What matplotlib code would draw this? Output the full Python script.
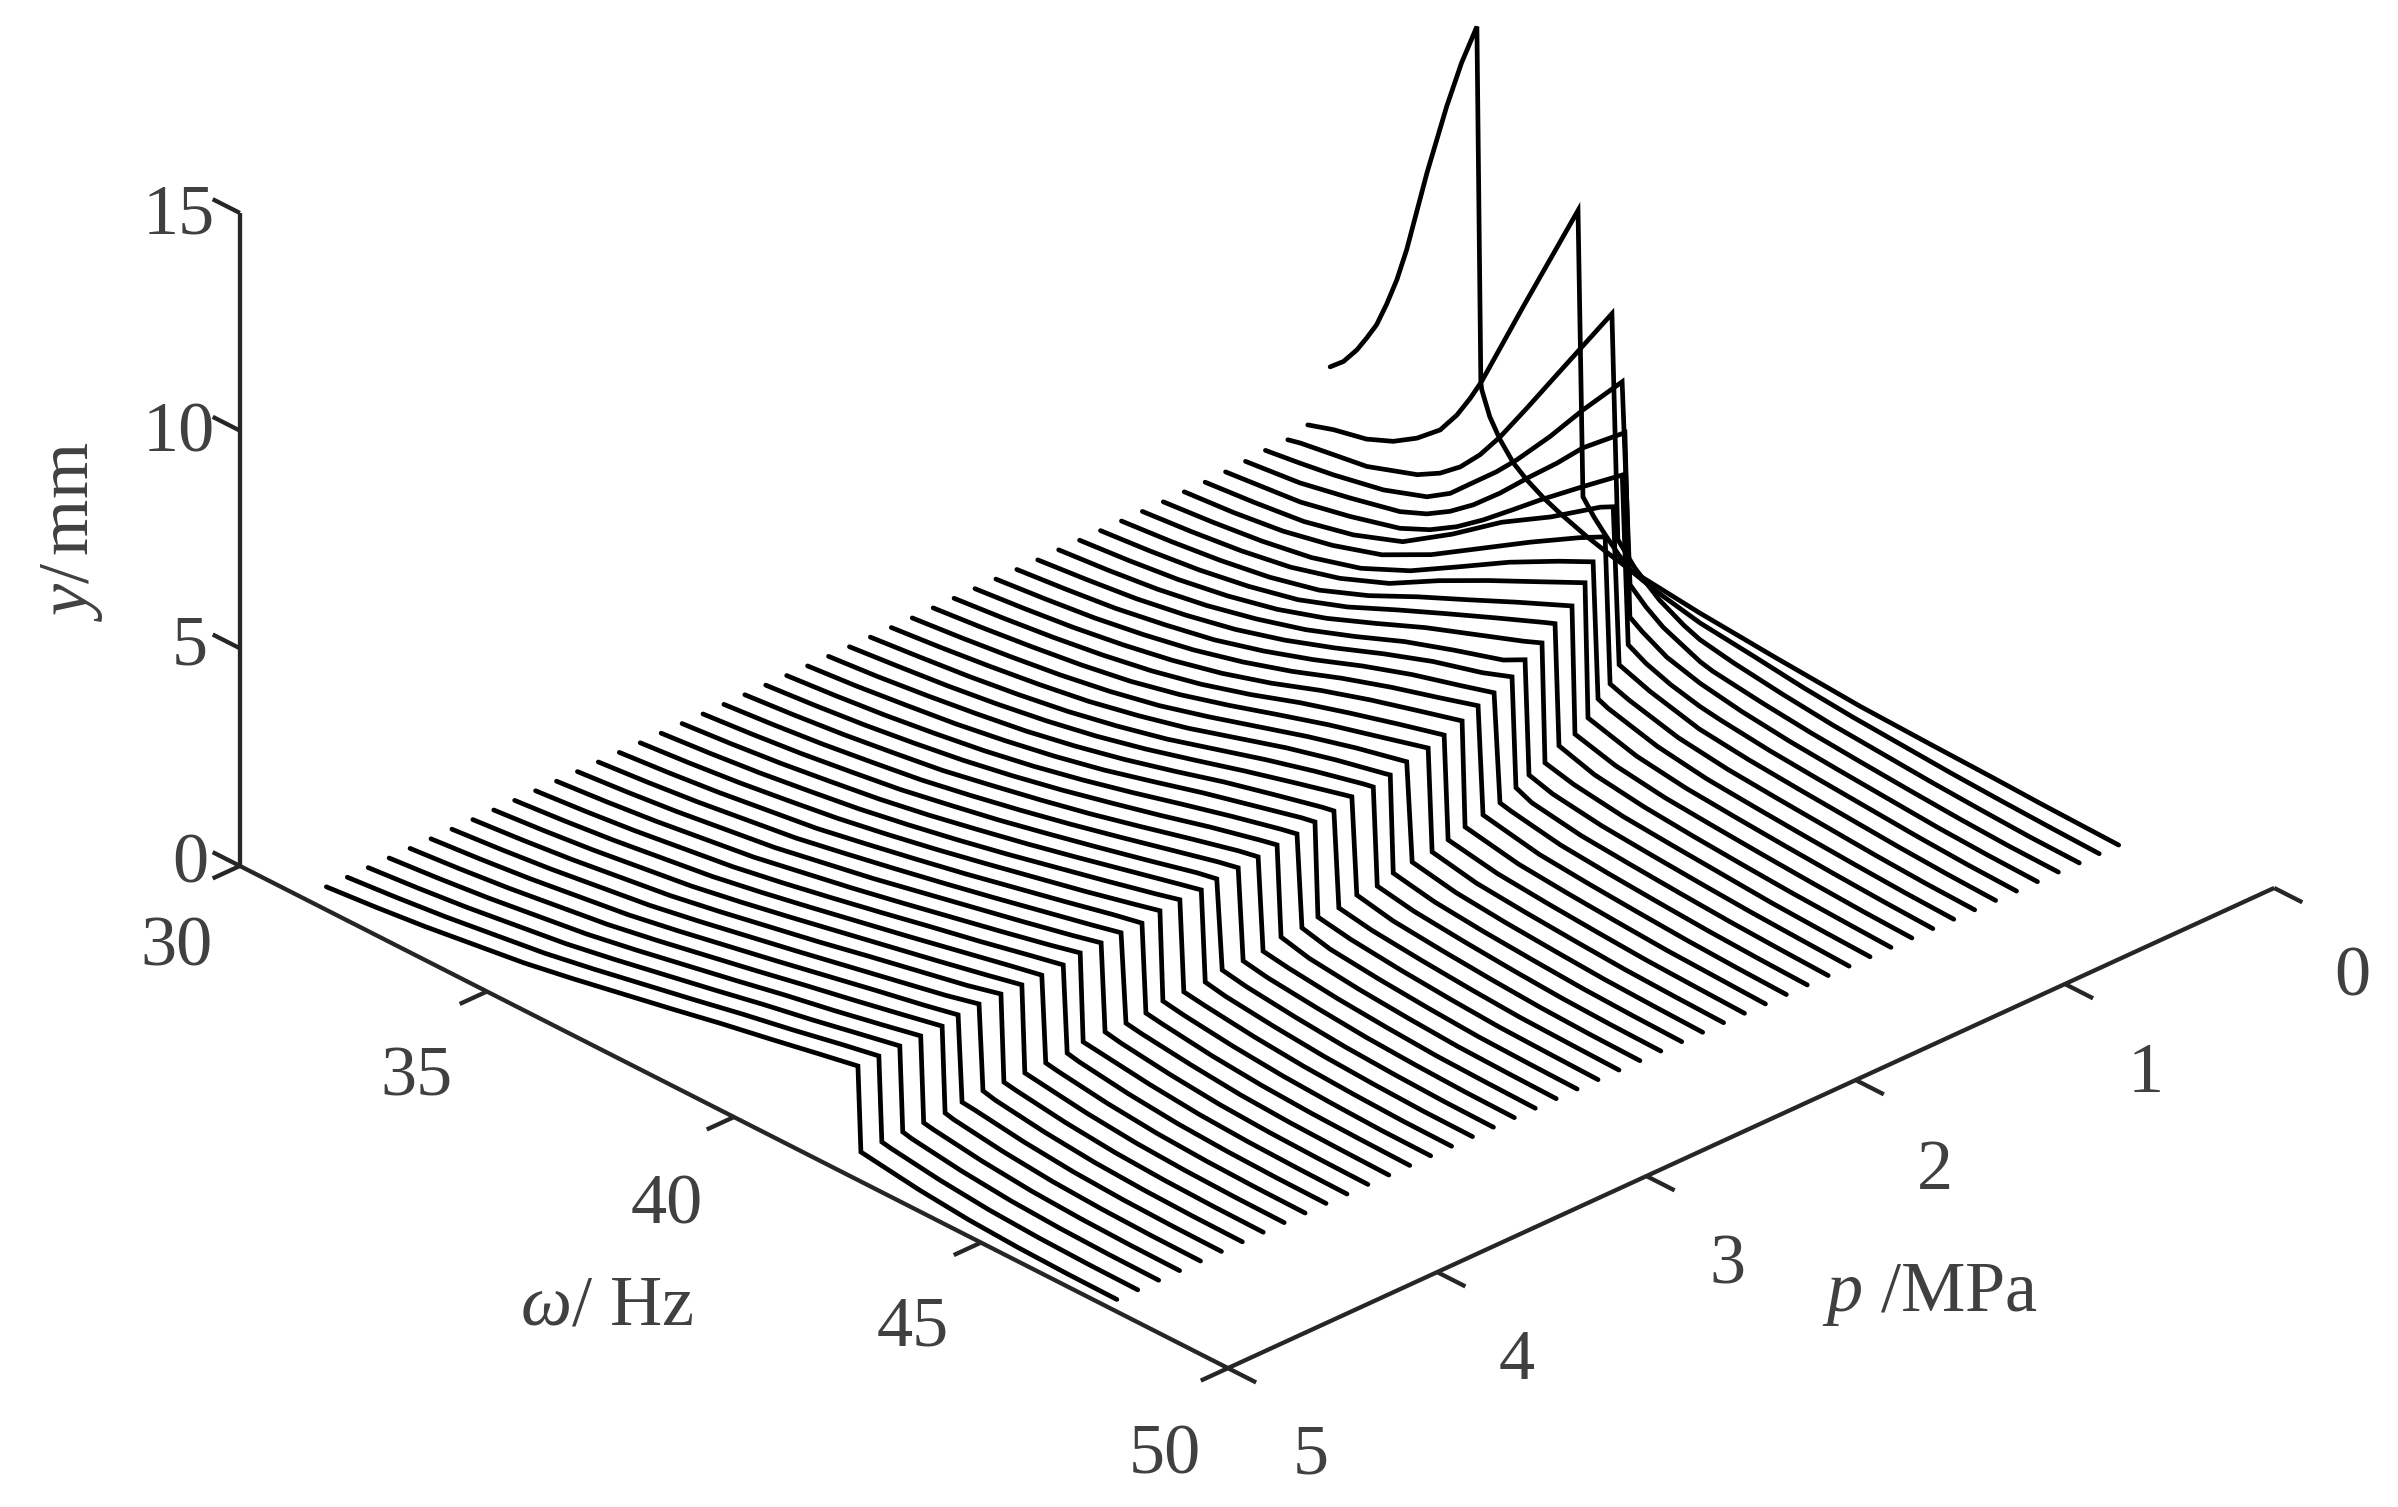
from matplotlib import pyplot as plt

plt.rcParams['font.family'] = ['Liberation Serif', 'DejaVu Serif']
plt.rcParams['mathtext.fontset'] = 'custom'
plt.rcParams['mathtext.rm'] = 'Liberation Serif'
plt.rcParams['mathtext.it'] = 'Liberation Serif:italic'

pressure = [0.2, 0.3, 0.4, 0.5, 0.6, 0.7, 0.8, 0.9, 1.0, 1.1, 1.2, 1.3, 1.4, 1.5, 1.6, 1.7, 1.8,
            1.9, 2.0, 2.1, 2.2, 2.3, 2.4, 2.5, 2.6, 2.7, 2.8, 2.9, 3.0, 3.1, 3.2, 3.3, 3.4, 3.5,
            3.6, 3.7, 3.8, 3.9, 4.0, 4.1, 4.2, 4.3, 4.4, 4.5, 4.6, 4.7, 4.8, 4.9, 5.0]

# the six tallest curves are read point by point
first_omega = [
    [31.74, 32.01, 32.28, 32.48, 32.68, 32.88, 33.09, 33.29, 33.70, 34.10, 34.40, 34.71,
     34.79, 34.81, 34.97, 35.18, 35.45, 35.72, 36.06, 36.39, 36.93, 37.40, 37.81, 39.22,
     40.0, 40.76, 42.46, 43.81, 45.15, 46.16, 47.7],
    [31.71, 32.23, 32.90, 33.44, 33.92, 34.39, 34.73, 35.00, 35.23, 36.07, 37.18,
     37.28, 37.50, 37.73, 38.00, 38.23, 38.75, 39.65, 40.75, 41.75, 42.75, 43.75, 44.75,
     45.75, 46.75, 47.73],
    [31.73, 31.98, 32.65, 33.33, 34.35, 34.81, 35.22, 35.62, 36.03, 36.57, 37.08, 38.29,
     38.41, 38.75, 39.25, 39.75, 40.07, 40.75, 41.75, 42.75, 43.75, 44.75, 45.75, 46.75, 47.75],
    [31.70, 32.40, 33.07, 34.09, 34.97, 35.44, 35.90, 36.38, 36.79, 37.46, 38.13, 38.92,
     39.08, 39.40, 39.75, 40.50, 40.75, 41.75, 42.75, 43.75, 44.75, 45.75, 46.75, 47.75],
    [31.72, 32.82, 33.84, 34.85, 35.39, 35.86, 36.33, 36.87, 37.48, 38.02, 38.55, 39.40,
     39.50, 39.75, 40.25, 40.92, 41.75, 42.75, 43.75, 44.75, 45.75, 46.75, 47.75],
    [31.74, 33.25, 34.26, 35.27, 35.88, 36.42, 36.95, 37.56, 38.11, 38.98, 39.77,
     39.89, 40.25, 40.75, 41.34, 41.75, 42.75, 43.75, 44.75, 45.75, 46.75, 47.75],
]
first_y = [
    [1.88, 2.16, 2.58, 2.97, 3.39, 3.97, 4.66, 5.47, 7.47, 9.23, 10.40, 11.41,
     3.27, 3.12, 2.60, 2.19, 1.81, 1.58, 1.36, 1.20, 0.98, 0.83, 0.72, 0.54,
     0.47, 0.40, 0.27, 0.22, 0.18, 0.14, 0.10],
    [0.75, 0.94, 1.11, 1.37, 1.72, 2.18, 2.72, 3.26, 3.78, 5.98, 8.83,
     2.31, 1.98, 1.70, 1.40, 1.18, 1.00, 0.78, 0.64, 0.50, 0.40, 0.33, 0.26,
     0.21, 0.17, 0.14],
    [0.64, 0.71, 0.83, 0.95, 1.35, 1.65, 2.03, 2.54, 3.19, 4.16, 5.10, 7.32,
     2.20, 1.75, 1.30, 1.00, 0.86, 0.72, 0.57, 0.45, 0.37, 0.29, 0.23, 0.18, 0.16],
    [0.60, 0.71, 0.83, 1.07, 1.42, 1.77, 2.28, 2.81, 3.32, 4.24, 5.24, 6.34,
     1.77, 1.45, 1.18, 0.82, 0.75, 0.60, 0.48, 0.39, 0.31, 0.24, 0.19, 0.17],
    [0.58, 0.72, 0.96, 1.23, 1.49, 1.82, 2.24, 2.82, 3.55, 4.17, 4.83, 5.67,
     1.49, 1.30, 1.00, 0.79, 0.63, 0.50, 0.41, 0.33, 0.25, 0.20, 0.17],
    [0.57, 0.75, 1.00, 1.31, 1.63, 2.01, 2.47, 3.06, 3.60, 4.41, 5.13,
     1.30, 1.08, 0.88, 0.72, 0.65, 0.52, 0.43, 0.35, 0.27, 0.21, 0.175],
]

# the other curves: values on a common frequency grid, before and after the jump
omega_grid = [31.75, 32.75, 33.75, 34.75, 35.75, 36.75, 37.75, 38.75, 39.75, 40.75, 41.75,
              42.75, 43.75, 44.75, 45.75, 46.75, 47.75]

top_omega = [40.01, 40.27, 40.45, 40.71, 40.87, 40.95, 41.11, 41.19,
             41.35, 41.41, 41.51, 41.61, 41.67, 41.77, 41.76, 41.85, 41.93, 41.92, 41.98, 42.02,
             42.08, 42.10, 42.14, 42.16, 42.15, 42.26, 42.25, 42.27, 42.33, 42.33, 42.35, 42.35,
             42.43, 42.42, 42.44, 42.44, 42.42, 42.42, 42.52, 42.51, 42.51, 42.51, 42.51]
top_y = [4.76, 4.44, 4.19, 4.08, 3.86, 3.72, 3.59, 3.47,
         3.39, 3.28, 3.26, 3.19, 3.12, 3.10, 3.00, 2.97, 2.96, 2.95, 2.88, 2.87,
         2.85, 2.83, 2.80, 2.78, 2.74, 2.77, 2.76, 2.74, 2.71, 2.71, 2.71, 2.70,
         2.69, 2.67, 2.68, 2.69, 2.67, 2.64, 2.66, 2.65, 2.64, 2.63, 2.62]
bottom_omega = [40.13, 40.37, 40.55, 40.77, 40.93, 41.03, 41.17, 41.27,
                41.43, 41.53, 41.61, 41.67, 41.75, 41.85, 41.87, 41.91, 42.01, 42.02, 42.08, 42.08,
                42.18, 42.18, 42.24, 42.26, 42.26, 42.34, 42.33, 42.33, 42.41, 42.43, 42.43, 42.41,
                42.51, 42.50, 42.50, 42.50, 42.50, 42.50, 42.58, 42.57, 42.57, 42.57, 42.57]
bottom_y = [1.20, 1.12, 1.10, 1.01, 0.95, 0.96, 0.87, 0.87,
            0.89, 0.82, 0.81, 0.79, 0.76, 0.76, 0.76, 0.75, 0.73, 0.75, 0.71, 0.72,
            0.75, 0.76, 0.69, 0.70, 0.71, 0.70, 0.69, 0.70, 0.69, 0.69, 0.71, 0.69,
            0.71, 0.70, 0.69, 0.70, 0.72, 0.68, 0.70, 0.69, 0.70, 0.69, 0.68]

rising = [
    [0.56, 0.67, 0.81, 1.08, 1.50, 2.25, 3.10, 3.80, 4.60],
    [0.56, 0.66, 0.81, 1.06, 1.42, 2.00, 2.72, 3.44, 4.12],
    [0.55, 0.66, 0.80, 1.00, 1.33, 1.85, 2.52, 3.20, 3.80],
    [0.55, 0.66, 0.80, 1.00, 1.32, 1.78, 2.42, 3.00, 3.55],
    [0.55, 0.66, 0.80, 0.99, 1.27, 1.72, 2.27, 2.78, 3.30, 3.80],
    [0.55, 0.66, 0.80, 1.00, 1.27, 1.68, 2.19, 2.68, 3.16, 3.63],
    [0.55, 0.66, 0.80, 1.00, 1.27, 1.64, 2.10, 2.58, 3.00, 3.42],
    [0.55, 0.66, 0.80, 1.00, 1.27, 1.60, 2.02, 2.48, 2.86, 3.21],
    [0.54, 0.66, 0.80, 1.00, 1.25, 1.58, 1.98, 2.42, 2.82, 3.14],
    [0.54, 0.66, 0.80, 1.00, 1.23, 1.55, 1.93, 2.36, 2.74, 3.06],
    [0.54, 0.66, 0.80, 0.99, 1.22, 1.52, 1.88, 2.30, 2.67, 3.00],
    [0.54, 0.66, 0.80, 0.98, 1.20, 1.48, 1.83, 2.24, 2.60, 2.92],
    [0.54, 0.66, 0.80, 0.97, 1.18, 1.45, 1.79, 2.18, 2.52, 2.84],
    [0.54, 0.66, 0.80, 0.96, 1.16, 1.43, 1.76, 2.12, 2.47, 2.78],
    [0.53, 0.65, 0.79, 0.95, 1.15, 1.40, 1.72, 2.07, 2.42, 2.73],
    [0.53, 0.65, 0.79, 0.95, 1.14, 1.39, 1.68, 2.03, 2.38, 2.68, 2.94],
    [0.53, 0.65, 0.78, 0.94, 1.13, 1.37, 1.65, 1.99, 2.33, 2.64, 2.92],
    [0.53, 0.65, 0.78, 0.94, 1.13, 1.36, 1.64, 1.96, 2.29, 2.60, 2.90],
    [0.53, 0.64, 0.78, 0.94, 1.12, 1.35, 1.62, 1.93, 2.26, 2.55, 2.83],
    [0.53, 0.64, 0.78, 0.93, 1.12, 1.34, 1.60, 1.91, 2.23, 2.52, 2.81],
    [0.53, 0.64, 0.77, 0.93, 1.11, 1.33, 1.59, 1.88, 2.19, 2.49, 2.77],
    [0.53, 0.64, 0.77, 0.93, 1.11, 1.33, 1.58, 1.86, 2.15, 2.46, 2.74],
    [0.53, 0.64, 0.77, 0.93, 1.10, 1.33, 1.57, 1.83, 2.12, 2.42, 2.71],
    [0.53, 0.64, 0.77, 0.93, 1.10, 1.32, 1.56, 1.82, 2.10, 2.39, 2.68],
    [0.53, 0.64, 0.77, 0.93, 1.10, 1.32, 1.55, 1.81, 2.08, 2.36, 2.65],
    [0.53, 0.64, 0.77, 0.93, 1.10, 1.31, 1.55, 1.80, 2.07, 2.35, 2.63],
    [0.53, 0.64, 0.77, 0.93, 1.10, 1.31, 1.54, 1.79, 2.06, 2.33, 2.61],
    [0.53, 0.64, 0.77, 0.93, 1.10, 1.31, 1.54, 1.79, 2.05, 2.31, 2.59],
    [0.53, 0.64, 0.77, 0.93, 1.09, 1.31, 1.54, 1.78, 2.04, 2.30, 2.57],
    [0.53, 0.64, 0.77, 0.93, 1.09, 1.31, 1.54, 1.78, 2.03, 2.29, 2.55],
    [0.53, 0.64, 0.77, 0.93, 1.09, 1.31, 1.53, 1.78, 2.03, 2.28, 2.54],
    [0.53, 0.64, 0.77, 0.93, 1.09, 1.31, 1.53, 1.77, 2.02, 2.27, 2.53],
    [0.53, 0.64, 0.77, 0.93, 1.09, 1.30, 1.53, 1.77, 2.02, 2.26, 2.52],
    [0.53, 0.64, 0.77, 0.93, 1.09, 1.30, 1.53, 1.77, 2.01, 2.26, 2.51],
    [0.53, 0.64, 0.77, 0.93, 1.09, 1.30, 1.53, 1.77, 2.01, 2.25, 2.50],
    [0.53, 0.64, 0.77, 0.93, 1.09, 1.30, 1.53, 1.76, 2.01, 2.25, 2.49],
    [0.53, 0.64, 0.77, 0.93, 1.09, 1.30, 1.53, 1.76, 2.00, 2.24, 2.48],
    [0.53, 0.64, 0.77, 0.93, 1.09, 1.30, 1.53, 1.76, 2.00, 2.24, 2.47],
    [0.53, 0.64, 0.77, 0.93, 1.09, 1.30, 1.53, 1.76, 2.00, 2.23, 2.47],
    [0.53, 0.64, 0.77, 0.93, 1.09, 1.30, 1.53, 1.76, 2.00, 2.22, 2.46],
    [0.53, 0.64, 0.77, 0.93, 1.09, 1.30, 1.53, 1.76, 2.00, 2.22, 2.46],
    [0.53, 0.64, 0.77, 0.93, 1.09, 1.30, 1.53, 1.76, 2.00, 2.22, 2.46],
    [0.53, 0.64, 0.77, 0.93, 1.09, 1.30, 1.53, 1.76, 2.00, 2.22, 2.45],
]

falling = [
    [0.95, 0.66, 0.53, 0.44, 0.36, 0.28, 0.22, 0.18],
    [0.97, 0.68, 0.53, 0.44, 0.36, 0.28, 0.22, 0.185],
    [1.00, 0.70, 0.53, 0.44, 0.36, 0.29, 0.23, 0.19],
    [0.70, 0.54, 0.45, 0.37, 0.30, 0.24, 0.195],
    [0.70, 0.54, 0.45, 0.37, 0.30, 0.24, 0.20],
    [0.71, 0.55, 0.45, 0.37, 0.30, 0.25, 0.205],
    [0.71, 0.55, 0.46, 0.38, 0.30, 0.25, 0.21],
    [0.71, 0.55, 0.46, 0.38, 0.31, 0.26, 0.215],
    [0.73, 0.55, 0.46, 0.38, 0.31, 0.26, 0.22],
    [0.76, 0.56, 0.46, 0.38, 0.31, 0.26, 0.225],
    [0.56, 0.46, 0.38, 0.31, 0.26, 0.225],
    [0.56, 0.46, 0.38, 0.31, 0.27, 0.23],
    [0.56, 0.46, 0.38, 0.31, 0.27, 0.235],
    [0.56, 0.46, 0.38, 0.31, 0.27, 0.24],
    [0.57, 0.46, 0.38, 0.31, 0.27, 0.24],
    [0.57, 0.46, 0.38, 0.31, 0.27, 0.245],
    [0.58, 0.47, 0.38, 0.31, 0.27, 0.25],
    [0.58, 0.47, 0.38, 0.31, 0.27, 0.25],
    [0.58, 0.47, 0.38, 0.31, 0.28, 0.255],
    [0.59, 0.47, 0.38, 0.31, 0.28, 0.255],
    [0.59, 0.47, 0.38, 0.31, 0.28, 0.26],
    [0.60, 0.47, 0.38, 0.31, 0.28, 0.26],
    [0.60, 0.47, 0.38, 0.31, 0.28, 0.26],
    [0.60, 0.48, 0.38, 0.32, 0.28, 0.265],
    [0.61, 0.48, 0.38, 0.32, 0.28, 0.265],
    [0.61, 0.48, 0.38, 0.32, 0.28, 0.27],
    [0.62, 0.48, 0.38, 0.32, 0.28, 0.27],
    [0.62, 0.48, 0.38, 0.32, 0.28, 0.27],
    [0.63, 0.48, 0.38, 0.32, 0.29, 0.27],
    [0.63, 0.49, 0.38, 0.32, 0.29, 0.27],
    [0.64, 0.49, 0.38, 0.32, 0.29, 0.275],
    [0.64, 0.49, 0.38, 0.32, 0.29, 0.275],
    [0.65, 0.49, 0.38, 0.32, 0.29, 0.28],
    [0.65, 0.49, 0.38, 0.32, 0.29, 0.28],
    [0.65, 0.49, 0.38, 0.32, 0.29, 0.28],
    [0.65, 0.49, 0.38, 0.32, 0.29, 0.28],
    [0.65, 0.49, 0.38, 0.32, 0.29, 0.28],
    [0.65, 0.49, 0.38, 0.32, 0.29, 0.28],
    [0.65, 0.49, 0.38, 0.32, 0.29, 0.28],
    [0.65, 0.49, 0.38, 0.32, 0.29, 0.28],
    [0.65, 0.49, 0.38, 0.32, 0.29, 0.28],
    [0.65, 0.49, 0.38, 0.32, 0.29, 0.28],
    [0.65, 0.49, 0.38, 0.32, 0.29, 0.28],
]

p_ticks = [0, 1, 2, 3, 4, 5]
omega_ticks = [30, 35, 40, 45, 50]
y_ticks = [0, 5, 10, 15]

W, H = 2398, 1507
AXIS = '#262626'
TEXT = '#404040'
FS = 52

fig = plt.figure(figsize=(W / 100, H / 100), dpi=100)
ax = fig.add_axes([538.1 / W, 237.6 / H, 1400 / W, 1400 / H], projection='3d', proj_type='ortho')
ax.set_axis_off()
ax.patch.set_visible(False)

n_first = len(first_omega)
for i, p in enumerate(pressure):
    if i < n_first:
        om, val = first_omega[i], first_y[i]
    else:
        j = i - n_first
        up, down = rising[j], falling[j]
        om = omega_grid[:len(up)] + [top_omega[j], bottom_omega[j]] + omega_grid[-len(down):]
        val = up + [top_y[j], bottom_y[j]] + down
    ax.plot([p] * len(om), om, val, color='k', lw=3.4, clip_on=False,
            solid_capstyle='round', solid_joinstyle='miter')

# box edges and ticks, MATLAB style
ax_kw = dict(color=AXIS, lw=3.1, solid_capstyle='butt', clip_on=False)
ax.plot([5, 5], [30, 50], [0, 0], **ax_kw)
ax.plot([5, 0], [50, 50], [0, 0], **ax_kw)
ax.plot([5, 5], [30, 30], [0, 15], **ax_kw)
for t in p_ticks:
    ax.plot([t, t], [50, 50.57], [0, 0], **ax_kw)
for t in omega_ticks:
    ax.plot([5, 5.13], [t, t], [0, 0], **ax_kw)
for t in y_ticks:
    ax.plot([5, 5], [30, 29.45], [t, t], **ax_kw)

ax.set_xlim(0, 5, view_margin=0)
ax.set_ylim(30, 50, view_margin=0)
ax.set_zlim(0, 15, view_margin=0)
ax.set_box_aspect((1443.2, 1434.4, 745.7), zoom=1.5027)
ax.view_init(elev=28.88, azim=46.46)


def label(x, y, s, **kw):
    fig.text(x / W, 1 - y / H, s, color=TEXT, fontsize=FS, **kw)


# baselines in pixels of the reference
for t, x, y in zip(y_ticks, [190, 190, 179, 179], [882, 665, 452, 233]):
    label(x, y, str(t), ha='center', va='baseline')
for t, x, y in zip(omega_ticks, [176, 417, 667, 913, 1165], [966, 1096, 1223, 1345, 1474]):
    label(x, y, str(t), ha='center', va='baseline')
for t, x, y in zip(p_ticks, [2352, 2146, 1935, 1727, 1517, 1311], [995, 1092, 1189, 1283, 1379, 1474]):
    label(x, y, str(t), ha='center', va='baseline')

label(607, 1325, '$\\mathit{ω}$/ Hz', ha='center', va='baseline')
label(1930, 1311, '$\\mathit{p}$ /MPa', ha='center', va='baseline')
label(72, 532, '$\\mathit{y}$/$\\,$mm', ha='center', va='center', rotation=90)

plt.savefig('out.png', dpi=100)
